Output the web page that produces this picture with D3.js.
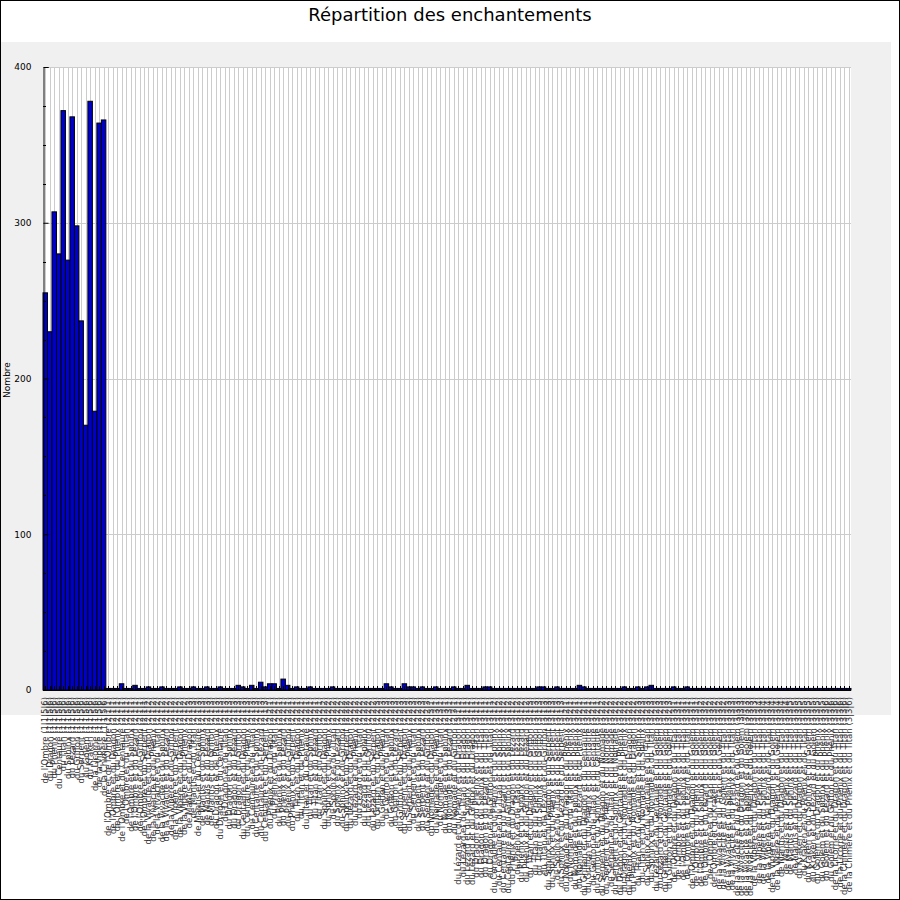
<!DOCTYPE html>
<html>
<head>
<meta charset="utf-8">
<script src="https://cdn.jsdelivr.net/npm/d3@7"></script>
<style>
  body { margin: 0; background: #fff; }
  svg { display: block; }
</style>
</head>
<body>
<svg width="900" height="900"></svg>
<script>
// Titles
const chartTitle = "Répartition des enchantements";
const yTitle = "Nombre";

// y ticks
const yTicks = [0, 100, 200, 300, 400];

// one label per bar
const labels = [
  "de l'Ombre (1|1|5|6)", "du Dragon (1|1|5|6)", "du Phénix (1|1|5|6)", "du Centaure (1|1|5|6)",
  "du Titan (1|1|5|6)", "du Sphinx (1|1|5|6)", "du Lézard (1|1|5|6)", "du Griffon (1|1|5|6)",
  "du Serpent (1|1|5|6)", "du Golem (1|1|5|6)", "du Kraken (1|1|5|6)", "de la Licorne (1|1|5|6)",
  "de la Vipère (1|1|5|6)", "de la Chimère (1|1|5|6)",
  "de l'Ombre et de l'Ombre (2|1|1)", "de l'Ombre et du Dragon (2|1|1)", "de l'Ombre et du Phénix (2|1|1)",
  "de l'Ombre et du Centaure (2|1|1)", "de l'Ombre et du Titan (2|1|1)", "de l'Ombre et du Sphinx (2|1|1)",
  "de l'Ombre et du Lézard (2|1|1)", "de l'Ombre et du Griffon (2|1|1)", "de l'Ombre et du Serpent (2|1|1)",
  "de la Vivacité et du Dragon (2|1|2)", "de la Vivacité et du Phénix (2|1|2)", "de la Vivacité et du Titan (2|1|2)",
  "de la Vivacité et du Sphinx (2|1|2)", "de la Vivacité et du Lézard (2|1|2)", "de la Vipère et du Griffon (2|1|2)",
  "de la Vipère et du Serpent (2|1|2)", "de la Vipère et du Dragon (2|1|2)", "de la Vipère et du Phénix (2|1|2)",
  "de Mantis et du Dragon (2|1|3)", "de Mantis et du Titan (2|1|3)", "de Mantis et du Centaure (2|1|3)",
  "de Mantis et du Sphinx (2|1|3)", "de Mantis et du Lézard (2|1|3)", "de Mantis et du Griffon (2|1|3)",
  "du Dragon et du Phénix (2|1|3)", "du Dragon et du Centaure (2|1|3)", "du Dragon et du Titan (2|1|3)",
  "du Dragon et du Sphinx (2|1|3)", "du Dragon et du Lézard (2|1|3)", "du Dragon et du Griffon (2|1|3)",
  "du Centaure et du Dragon (2|1|3)", "du Centaure et du Phénix (2|1|3)", "du Centaure et du Titan (2|1|3)",
  "du Centaure et du Sphinx (2|1|3)", "du Centaure et du Lézard (2|1|3)", "du Centaure et du Serpent (2|1|3)",
  "du Phénix et du Dragon (2|2|1)", "du Phénix et du Titan (2|2|1)", "du Phénix et du Sphinx (2|2|1)",
  "du Phénix et du Lézard (2|2|1)", "du Phénix et du Griffon (2|2|1)", "du Phénix et du Serpent (2|2|1)",
  "du Titan et du Dragon (2|2|1)", "du Titan et du Phénix (2|2|1)", "du Titan et du Centaure (2|2|1)",
  "du Titan et du Sphinx (2|2|1)", "du Titan et du Lézard (2|2|1)", "du Titan et du Griffon (2|2|1)",
  "du Sphinx et du Dragon (2|2|2)", "du Sphinx et du Phénix (2|2|2)", "du Sphinx et du Titan (2|2|2)",
  "du Sphinx et du Lézard (2|2|2)", "du Sphinx et du Griffon (2|2|2)", "du Sphinx et du Serpent (2|2|2)",
  "du Lézard et du Dragon (2|2|2)", "du Lézard et du Phénix (2|2|2)", "du Lézard et du Titan (2|2|2)",
  "du Lézard et du Sphinx (2|2|2)", "du Lézard et du Griffon (2|2|2)", "du Lézard et du Serpent (2|2|2)",
  "du Griffon et du Dragon (2|2|3)", "du Griffon et du Phénix (2|2|3)", "du Griffon et du Titan (2|2|3)",
  "du Griffon et du Sphinx (2|2|3)", "du Griffon et du Lézard (2|2|3)", "du Griffon et du Serpent (2|2|3)",
  "du Serpent et du Dragon (2|2|3)", "du Serpent et du Phénix (2|2|3)", "du Serpent et du Titan (2|2|3)",
  "du Serpent et du Sphinx (2|2|3)", "du Serpent et du Lézard (2|2|3)", "du Serpent et du Griffon (2|2|3)",
  "du Nomade et du Dragon (2|3|1)", "du Nomade et du Phénix (2|3|1)", "du Nomade et du Titan (2|3|1)",
  "du Nomade et du Sphinx (2|3|1)", "du Nomade et du Lézard (2|3|1)", "du Nomade et du Griffon (2|3|1)",
  "du Lézard et du Phénix et du Dragon (3|1|1)", "du Lézard et du Titan et du Dragon (3|1|1)",
  "du Lézard et du Sphinx et du Dragon (3|1|1)", "du Lézard et du Griffon et du Dragon (3|1|1)",
  "du Dragon et du Phénix et du Titan (3|1|1)", "du Dragon et du Sphinx et du Titan (3|1|1)",
  "du Dragon et du Lézard et du Titan (3|1|1)", "du Dragon et du Griffon et du Titan (3|1|1)",
  "du Centaure et du Phénix et du Sphinx (3|1|2)", "du Centaure et du Titan et du Sphinx (3|1|2)",
  "du Centaure et du Lézard et du Sphinx (3|1|2)", "du Centaure et du Griffon et du Sphinx (3|1|2)",
  "du Phénix et du Dragon et du Lézard (3|1|2)", "du Phénix et du Titan et du Lézard (3|1|2)",
  "du Phénix et du Sphinx et du Lézard (3|1|2)", "du Phénix et du Griffon et du Lézard (3|1|2)",
  "du Titan et du Dragon et du Griffon (3|1|3)", "du Titan et du Phénix et du Griffon (3|1|3)",
  "du Titan et du Sphinx et du Griffon (3|1|3)", "du Titan et du Lézard et du Griffon (3|1|3)",
  "du Sphinx et du Dragon et du Serpent (3|1|3)", "du Sphinx et du Phénix et du Serpent (3|1|3)",
  "du Sphinx et du Titan et du Serpent (3|1|3)", "du Sphinx et du Lézard et du Serpent (3|1|3)",
  "du Nomade et du Dragon et du Phénix (3|2|1)", "du Nomade et du Titan et du Phénix (3|2|1)",
  "du Nomade et du Sphinx et du Phénix (3|2|1)", "du Nomade et du Lézard et du Phénix (3|2|1)",
  "du Griffon et du Dragon et du Centaure (3|2|1)", "du Griffon et du Phénix et du Centaure (3|2|1)",
  "du Griffon et du Titan et du Centaure (3|2|1)", "du Griffon et du Sphinx et du Centaure (3|2|1)",
  "du Serpent et du Dragon et du Nomade (3|2|2)", "du Serpent et du Phénix et du Nomade (3|2|2)",
  "du Serpent et du Titan et du Nomade (3|2|2)", "du Serpent et du Sphinx et du Nomade (3|2|2)",
  "du Dragon et du Centaure et du Phénix (3|2|2)", "du Dragon et du Nomade et du Phénix (3|2|2)",
  "du Phénix et du Centaure et du Dragon (3|2|2)", "du Phénix et du Nomade et du Dragon (3|2|2)",
  "du Titan et du Centaure et du Sphinx (3|2|3)", "du Titan et du Nomade et du Sphinx (3|2|3)",
  "du Sphinx et du Centaure et du Titan (3|2|3)", "du Sphinx et du Nomade et du Titan (3|2|3)",
  "du Lézard et du Centaure et du Golem (3|2|3)", "du Lézard et du Nomade et du Golem (3|2|3)",
  "du Griffon et du Centaure et du Golem (3|2|3)", "du Griffon et du Nomade et du Golem (3|2|3)",
  "de l'Ombre et du Dragon et du Titan (3|3|1)", "de l'Ombre et du Phénix et du Titan (3|3|1)",
  "de l'Ombre et du Sphinx et du Titan (3|3|1)", "de l'Ombre et du Lézard et du Titan (3|3|1)",
  "de l'Ombre et du Dragon et du Golem (3|3|1)", "de l'Ombre et du Phénix et du Golem (3|3|1)",
  "de l'Ombre et du Sphinx et du Golem (3|3|2)", "de l'Ombre et du Lézard et du Golem (3|3|2)",
  "de l'Ombre et du Titan et du Golem (3|3|2)", "de l'Ombre et du Kraken et du Golem (3|3|2)",
  "de la Vivacité et du Titan et du Golem (3|3|2)", "de la Vivacité et du Golem et du Titan (3|3|2)",
  "de la Vivacité et du Sphinx et du Titan (3|3|3)", "de la Vivacité et du Phénix et du Titan (3|3|3)",
  "de la Vivacité et du Lézard et du Golem (3|3|3)", "de la Vivacité et du Dragon et du Golem (3|3|3)",
  "de la Vivacité et du Sphinx et du Golem (3|3|3)", "de la Vivacité et du Phénix et du Golem (3|3|3)",
  "de la Vipère et du Dragon et du Titan (3|3|3)", "de la Vipère et du Phénix et du Titan (3|3|4)",
  "de la Vipère et du Sphinx et du Titan (3|3|4)", "de la Vipère et du Lézard et du Titan (3|3|4)",
  "de la Vipère et du Dragon et du Golem (3|3|4)", "de la Vipère et du Phénix et du Golem (3|3|4)",
  "de Mantis et du Dragon et du Titan (3|3|4)", "de Mantis et du Phénix et du Titan (3|3|4)",
  "de Mantis et du Sphinx et du Titan (3|3|5)", "de Mantis et du Lézard et du Titan (3|3|5)",
  "du Kraken et du Dragon et du Titan (3|3|5)", "du Kraken et du Phénix et du Titan (3|3|5)",
  "du Kraken et du Sphinx et du Golem (3|3|5)", "du Kraken et du Lézard et du Golem (3|3|5)",
  "du Golem et du Dragon et du Phénix (3|3|5)", "du Golem et du Sphinx et du Phénix (3|3|5)",
  "du Golem et du Lézard et du Phénix (3|3|6)", "du Golem et du Griffon et du Phénix (3|3|6)",
  "de la Licorne et du Dragon et du Titan (3|3|6)", "de la Licorne et du Phénix et du Titan (3|3|6)",
  "de la Chimère et du Dragon et du Titan (3|3|6)", "de la Chimère et du Phénix et du Titan (3|3|6)"
];

// bar values, left to right
const values = [
  255, 230, 307, 280, 372, 276, 368, 298, 237, 170, 378, 179, 364, 366,
  1, 1, 1, 4, 1, 1,
  3, 1, 1, 2, 1, 1, 2, 1, 1, 1,
  2, 1, 1, 2, 1, 1, 2, 1, 1, 2,
  1, 1, 1, 3, 2, 1, 3, 1, 5, 2,
  4, 4, 1, 7, 3, 1, 2, 1, 1, 2,
  1, 1, 1, 1, 2, 1, 1, 1, 1, 1,
  1, 1, 1, 1, 1, 1, 4, 2, 1, 1,
  4, 2, 2, 1, 2, 1, 1, 2, 1, 1,
  1, 2, 1, 1, 3, 1, 1, 1, 2, 2,
  1, 1, 1, 1, 1, 1, 1, 1, 1, 1,
  2, 2, 1, 1, 2, 1, 1, 1, 1, 3,
  2, 1, 1, 1, 1, 1, 1, 1, 1, 2,
  1, 1, 2, 1, 2, 3, 1, 1, 1, 1,
  2, 1, 1, 2, 1, 1, 1, 1, 1, 1,
  1, 1, 1, 1, 1, 1, 1, 1, 1, 1,
  1, 1, 1, 1, 1, 1, 1, 1, 1, 1,
  1, 1, 1, 1, 1, 1, 1, 1, 1, 1
];

const data = labels.map((l, i) => ({ label: l, value: values[i] }));

let svg = d3.select('svg');
let width = +svg.attr('width');
let height = +svg.attr('height');

// plot box
let plotLeft = 43, plotRight = 851, plotTop = 67, plotBottom = 690;
const font = "DejaVu Sans, sans-serif";

// page background and frame
svg.append('rect')
    .attr('x', 0.5).attr('y', 0.5)
    .attr('width', width - 1).attr('height', height - 1)
    .attr('fill', '#fff').attr('stroke', '#000');

// grey panel behind the plot
svg.append('rect')
    .attr('x', 1).attr('y', 42)
    .attr('width', 890).attr('height', 673)
    .attr('fill', '#f0f0f0');

svg.append('rect')
    .attr('x', plotLeft).attr('y', plotTop)
    .attr('width', plotRight - plotLeft).attr('height', plotBottom - plotTop)
    .attr('fill', '#fff');

// title
svg.append('text')
    .attr('x', width / 2).attr('y', 21)
    .attr('text-anchor', 'middle')
    .style('font-family', font).style('font-size', '18px')
    .text(chartTitle);

/*************************** SCALES ***************************/
let xScale = d3.scaleBand()
    .domain(d3.range(data.length))
    .range([plotLeft, plotRight])
    .padding(0);

let yScale = d3.scaleLinear()
    .domain([0, 400])
    .range([plotBottom, plotTop]);

let cx = i => Math.round(xScale(i) + xScale.bandwidth() / 2) + 0.5;

// grid
svg.append('g').selectAll('line')
    .data(yTicks.filter(t => t > 0))
    .enter().append('line')
    .attr('x1', plotLeft).attr('x2', plotRight)
    .attr('y1', d => Math.round(yScale(d)) + 0.5)
    .attr('y2', d => Math.round(yScale(d)) + 0.5)
    .attr('stroke', '#cccccc');

svg.append('g').selectAll('line')
    .data(data)
    .enter().append('line')
    .attr('x1', (d, i) => cx(i))
    .attr('x2', (d, i) => cx(i))
    .attr('y1', plotTop).attr('y2', plotBottom)
    .attr('stroke', '#cccccc');

/*************************** BARS ***************************/
svg.append('g').selectAll('rect')
    .data(data)
    .enter().append('rect')
    .attr('x', (d, i) => xScale(i))
    .attr('y', d => yScale(d.value))
    .attr('width', xScale.bandwidth())
    .attr('height', d => plotBottom - yScale(d.value))
    .attr('fill', '#0000cc')
    .attr('stroke', '#000')
    .attr('stroke-width', 1);

/*************************** AXES ***************************/
let yAxis = d3.axisLeft(yScale)
    .tickValues(yTicks)
    .tickSize(-5)
    .tickPadding(12);

let yg = svg.append('g')
    .attr('transform', `translate(${plotLeft + 0.5},0)`)
    .call(yAxis);
yg.select('.domain').attr('stroke', '#000');
yg.selectAll('text')
    .style('font-family', font).style('font-size', '9px')
    .attr('fill', '#000');

// minor ticks every 25
let minor = d3.range(0, 401, 25).filter(v => v % 100 !== 0);
svg.append('g').selectAll('line')
    .data(minor)
    .enter().append('line')
    .attr('x1', plotLeft).attr('x2', plotLeft + 3)
    .attr('y1', d => Math.round(yScale(d)) + 0.5)
    .attr('y2', d => Math.round(yScale(d)) + 0.5)
    .attr('stroke', '#000');

// x axis line with short ticks at bar centres
svg.append('line')
    .attr('x1', plotLeft).attr('x2', plotRight)
    .attr('y1', plotBottom + 0.5).attr('y2', plotBottom + 0.5)
    .attr('stroke', '#000');

svg.append('g').selectAll('line')
    .data(data)
    .enter().append('line')
    .attr('x1', (d, i) => cx(i)).attr('x2', (d, i) => cx(i))
    .attr('y1', plotBottom - 4).attr('y2', plotBottom)
    .attr('stroke', '#000');

// category labels, vertical
let labelTop = plotBottom + 7;
let maxLen = height - 4 - labelTop;
svg.append('g').selectAll('text')
    .data(data)
    .enter().append('text')
    .attr('transform', (d, i) =>
        `translate(${xScale(i) + xScale.bandwidth() / 2 + 3},${labelTop}) rotate(-90)`)
    .attr('text-anchor', 'end')
    .style('font-family', font).style('font-size', '8.5px')
    .attr('fill', '#333')
    .text(d => d.label)
    .each(function () {
        // squeeze the few labels that would run past the frame
        let len = this.getComputedTextLength();
        if (len > maxLen) {
            d3.select(this)
                .attr('textLength', maxLen)
                .attr('lengthAdjust', 'spacingAndGlyphs');
        }
    });

// y axis title
svg.append('text')
    .attr('transform', `translate(10,380) rotate(-90)`)
    .attr('text-anchor', 'middle')
    .style('font-family', font).style('font-size', '9px')
    .text(yTitle);

// redraw frame on top so labels don't cover it
svg.append('rect')
    .attr('x', 0.5).attr('y', 0.5)
    .attr('width', width - 1).attr('height', height - 1)
    .attr('fill', 'none').attr('stroke', '#000');
</script>
</body>
</html>
